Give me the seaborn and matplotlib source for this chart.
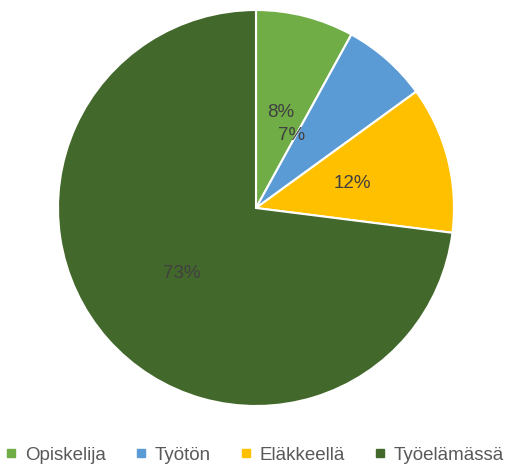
import matplotlib
matplotlib.use("Agg")
import matplotlib.pyplot as plt
import seaborn as sns
import numpy as np

# data
labels = ["Opiskelija", "Työtön", "Eläkkeellä", "Työelämässä"]
shares = [8, 7, 12, 73]
colors = ["#70AD47", "#5B9BD5", "#FFC000", "#43682B"]

sns.set_theme(style="white")
plt.rcParams["font.family"] = ["Liberation Sans", "DejaVu Sans"]
palette = sns.color_palette(colors)

fig = plt.figure(figsize=(5.1, 4.68), dpi=100)
ax = fig.add_axes([58 / 510, 62 / 468, 396 / 510, 396 / 468])

wedges, texts, autotexts = ax.pie(
    shares, colors=palette, startangle=90, counterclock=False,
    autopct="%1.0f%%", pctdistance=0.5,
    wedgeprops=dict(edgecolor="white", linewidth=1.5),
    textprops=dict(color="#404040", fontsize=13.5),
)
ax.set_aspect("equal")
ax.set_xlim(-1.0, 1.0)
ax.set_ylim(-1.0, 1.0)

# Excel nudges the small 7% label inwards
ang = np.deg2rad(90 - 26)
autotexts[1].set_position((0.41 * np.cos(ang), 0.41 * np.sin(ang)))

handles = [plt.Line2D([], [], marker="s", linestyle="", markersize=6,
                      markerfacecolor=c, markeredgecolor=c) for c in palette]
fig.legend(handles, labels, loc="center", bbox_to_anchor=(0.5, 13 / 468),
           ncol=4, frameon=False, fontsize=13.5, handletextpad=0.45,
           handlelength=0.6, columnspacing=1.55, labelcolor="#595959",
           borderpad=0, borderaxespad=0)

fig.savefig("out.png", dpi=100)
